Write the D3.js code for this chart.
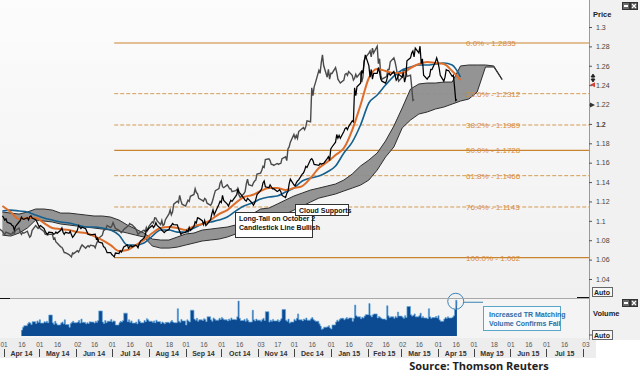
<!DOCTYPE html>
<html>
<head>
<meta charset="utf-8">
<script src="https://cdn.jsdelivr.net/npm/d3@7"></script>
<style>
  body { margin: 0; background: #fff; }
  svg { display: block; font-family: "Liberation Sans", Arial, sans-serif; }
</style>
</head>
<body>
<div id="chart"></div>
<script>
// daily closes, one per business day from 2014-03-31 to 2015-04-17 (5 per row = one week)
var closes = [
  1.1052, 1.1035, 1.1008, 1.1020, 1.0985,
  1.0972, 1.0955, 1.0948, 1.0905, 1.0942,
  1.0988, 1.1002, 1.1038, 1.1021, 1.1016,
  1.1032, 1.1010, 1.1044, 1.1052, 1.1030,
  1.1012, 1.0991, 1.0962, 1.0938, 1.0952,
  1.0921, 1.0893, 1.0871, 1.0862, 1.0884,
  1.0879, 1.0862, 1.0866, 1.0884, 1.0871,
  1.0902, 1.0926, 1.0883, 1.0861, 1.0882,
  1.0872, 1.0893, 1.0858, 1.0831, 1.0846,
  1.0902, 1.0951, 1.0936, 1.0921, 1.0934,
  1.0918, 1.0891, 1.0862, 1.0858, 1.0855,
  1.0861, 1.0863, 1.0812, 1.0823, 1.0782,
  1.0771, 1.0732, 1.0728, 1.0703, 1.0672,
  1.0671, 1.0652, 1.0641, 1.0628, 1.0668,
  1.0662, 1.0691, 1.0678, 1.0702, 1.0731,
  1.0752, 1.0718, 1.0733, 1.0744, 1.0731,
  1.0749, 1.0741, 1.0722, 1.0762, 1.0791,
  1.0821, 1.0852, 1.0898, 1.0905, 1.0921,
  1.0952, 1.0931, 1.0948, 1.0981, 1.0953,
  1.0922, 1.0903, 1.0891, 1.0878, 1.0892,
  1.0911, 1.0942, 1.0951, 1.0972, 1.0962,
  1.0958, 1.0921, 1.0892, 1.0861, 1.0872,
  1.0882, 1.0903, 1.0888, 1.0932, 1.0901,
  1.0942, 1.0991, 1.0978, 1.1031, 1.1028,
  1.1002, 1.0961, 1.1003, 1.0951, 1.0963,
  1.1012, 1.1071, 1.1112, 1.1062, 1.1091,
  1.1172, 1.1203, 1.1188, 1.1262, 1.1211,
  1.1172, 1.1152, 1.1183, 1.1212, 1.1201,
  1.1253, 1.1272, 1.1331, 1.1292, 1.1281,
  1.1232, 1.1211, 1.1203, 1.1232, 1.1221,
  1.1182, 1.1161, 1.1183, 1.1222, 1.1271,
  1.1312, 1.1333, 1.1391, 1.1412, 1.1352,
  1.1342, 1.1371, 1.1352, 1.1331, 1.1332,
  1.1302, 1.1311, 1.1322, 1.1301, 1.1262,
  1.1241, 1.1282, 1.1302, 1.1381, 1.1431,
  1.1372, 1.1361, 1.1392, 1.1411, 1.1422,
  1.1482, 1.1493, 1.1521, 1.1562, 1.1551,
  1.1632, 1.1641, 1.1622, 1.1582, 1.1581,
  1.1572, 1.1592, 1.1583, 1.1591, 1.1592,
  1.1642, 1.1661, 1.1622, 1.1742, 1.1762,
  1.1812, 1.1891, 1.1852, 1.1882, 1.1851,
  1.1921, 1.1952, 1.1962, 1.1941, 1.1972,
  1.2031, 1.2022, 1.2372, 1.2291, 1.2382,
  1.2421, 1.2552, 1.2522, 1.2632, 1.2712,
  1.2602, 1.2482, 1.2562, 1.2462, 1.2522,
  1.2521, 1.2582, 1.2531, 1.2462, 1.2441,
  1.2422, 1.2452, 1.2512, 1.2521, 1.2502,
  1.2541, 1.2502, 1.2452, 1.2471, 1.2512,
  1.2482, 1.2531, 1.2432, 1.2482, 1.2652,
  1.2682, 1.2731, 1.2752, 1.2692, 1.2782,
  1.2732, 1.2802, 1.2622, 1.2672, 1.2502,
  1.2462, 1.2482, 1.2491, 1.2562, 1.2561,
  1.2642, 1.2682, 1.2641, 1.2582, 1.2502,
  1.2441, 1.2482, 1.2561, 1.2552, 1.2551,
  1.2491, 1.2502, 1.2382, 1.2242, 1.2252
];

// daily volume from 2014-04-16 to 2015-04-17
var volumes = [
  16, 24, 28,
  33, 37, 35, 31, 39,   34, 41, 37, 44, 35,   39, 37, 40, 36, 57,   36, 32, 40, 34, 30,
  35, 38, 33, 44, 31,   24, 34, 37, 40, 36,   38, 42, 35, 46, 37,   33, 36, 34, 39, 38,
  35, 40, 37, 42, 68,   38, 34, 42, 36, 40,   45, 38, 41, 40, 30,   36, 40, 38, 42, 62,
  39, 44, 37, 41, 35,   38, 33, 45, 40, 36,   42, 39, 47, 44, 40,   37, 41, 36, 43, 39,
  34, 38, 36, 33, 37,   35, 39, 42, 38, 36,   74, 40, 37, 45, 41,   30, 44, 41, 38, 70,
  46, 43, 48, 40, 44,   42, 47, 45, 39, 52,   44, 40, 49, 46, 43,   48, 45, 50, 47, 44,
  41, 46, 43, 49, 45,   44, 52, 95, 48, 42,   45, 40, 47, 43, 38,   70, 44, 41, 46, 43,
  40, 45, 48, 42, 66,   38, 43, 40, 45, 41,   44, 39, 42, 47, 72,   43, 40, 46, 35, 38,
  45, 42, 48, 60, 44,   41, 46, 44, 49, 43,   47, 50, 45, 42, 40,   33, 27, 18, 20, 24,
  25, 28, 22, 19, 30,   38, 43, 40, 45, 48,   44, 47, 50, 46, 49,   40, 48, 84, 55, 52,
  47, 51, 49, 54, 58,   88, 56, 52, 58, 60,   49, 53, 51, 48, 46,   44, 82, 55, 50, 52,
  48, 53, 50, 65, 54,   51, 48, 55, 50, 80,   58, 54, 56, 60, 52,   55, 62, 50, 53, 49,
  47, 74, 52, 48, 50,   53, 49, 55, 44, 40,   46, 50, 48, 52, 49,   51, 55, 72, 97, 80
];

// weekly points (Mondays from 2014-03-31)
var conversionLine = [ // orange
  1.1153, 1.1091, 1.1019, 1.1029, 1.1029, 1.0977, 1.0926, 1.0915, 1.0905, 1.0884,
  1.0874, 1.0843, 1.0802, 1.0750, 1.0688, 1.0699, 1.0750, 1.0802, 1.0874, 1.0926,
  1.0936, 1.0926, 1.0905, 1.0946, 1.0967, 1.1008, 1.1070, 1.1111, 1.1184, 1.1246,
  1.1266, 1.1308, 1.1338, 1.1338, 1.1318, 1.1338, 1.1359, 1.1442, 1.1545, 1.1607,
  1.1679, 1.1751, 1.1937, 1.2195, 1.2474, 1.2567, 1.2546, 1.2525, 1.2525, 1.2577,
  1.2618, 1.2639, 1.2628, 1.2618, 1.2546, 1.2453
];
var baseLine = [ // blue
  1.1101, 1.1111, 1.1101, 1.1091, 1.1060, 1.1029, 1.1008, 1.0988, 1.0977, 1.0957,
  1.0936, 1.0936, 1.0926, 1.0905, 1.0853, 1.0750, 1.0750, 1.0771, 1.0843, 1.0905,
  1.0905, 1.0884, 1.0884, 1.0926, 1.0967, 1.0988, 1.1008, 1.1039, 1.1101, 1.1153,
  1.1184, 1.1225, 1.1246, 1.1256, 1.1297, 1.1338, 1.1411, 1.1442, 1.1462, 1.1504,
  1.1566, 1.1700, 1.1813, 1.1989, 1.2216, 1.2298, 1.2401, 1.2494, 1.2556, 1.2587,
  1.2608, 1.2608, 1.2618, 1.2628, 1.2608, 1.2484
];
var cloudTop = [
  1.1091, 1.1080, 1.1070, 1.1091, 1.1122, 1.1122, 1.1111, 1.1080, 1.1080, 1.1070,
  1.1060, 1.1050, 1.1050, 1.1039, 1.1008, 1.0957, 1.0915, 1.0874, 1.0812, 1.0802,
  1.0802, 1.0833, 1.0864, 1.0874, 1.0905, 1.0915, 1.0926, 1.0936, 1.0957, 1.1008,
  1.1070, 1.1122, 1.1132, 1.1173, 1.1215, 1.1256, 1.1287, 1.1318, 1.1338, 1.1359,
  1.1380, 1.1421, 1.1483, 1.1566, 1.1627, 1.1700, 1.1824, 1.1978, 1.2164, 1.2360,
  1.2412, 1.2422, 1.2422, 1.2432, 1.2432, 1.2598, 1.2608, 1.2608, 1.2608, 1.2598,
  1.2463
];
var cloudBottom = [
  1.0853, 1.0843, 1.0874, 1.0926, 1.1008, 1.0998, 1.0988, 1.0967, 1.0957, 1.0946,
  1.0936, 1.0926, 1.0915, 1.0905, 1.0895, 1.0874, 1.0853, 1.0833, 1.0740, 1.0719,
  1.0719, 1.0729, 1.0750, 1.0771, 1.0792, 1.0802, 1.0812, 1.0833, 1.0864, 1.0895,
  1.0926, 1.0946, 1.0977, 1.1019, 1.1070, 1.1111, 1.1153, 1.1194, 1.1235, 1.1256,
  1.1277, 1.1308, 1.1338, 1.1369, 1.1421, 1.1524, 1.1658, 1.1762, 1.1958, 1.2040,
  1.2102, 1.2123, 1.2154, 1.2174, 1.2205, 1.2236, 1.2257, 1.2329, 1.2587, 1.2587,
  1.2453
];

var fibPct = ["0.0%", "23.6%", "38.2%", "50.0%", "61.8%", "76.4%", "100.0%"];
var fibLevels = [1.2835, 1.2312, 1.1989, 1.1728, 1.1466, 1.1143, 1.062];

var priceTicks = [1.3, 1.28, 1.26, 1.24, 1.22, 1.2, 1.18, 1.16, 1.14, 1.12, 1.1, 1.08, 1.06, 1.04];
var dayTicks = [
  "2014-04-01", "2014-04-16", "2014-05-01", "2014-05-16", "2014-06-02", "2014-06-16",
  "2014-07-01", "2014-07-16", "2014-08-01", "2014-08-18", "2014-09-01", "2014-09-16",
  "2014-10-01", "2014-10-16", "2014-11-03", "2014-11-17", "2014-12-01", "2014-12-16",
  "2015-01-01", "2015-01-16", "2015-02-02", "2015-02-16", "2015-03-02", "2015-03-16",
  "2015-04-01", "2015-04-16", "2015-05-01", "2015-05-18", "2015-06-01", "2015-06-16",
  "2015-07-01", "2015-07-16", "2015-08-03"
];

var W = 640, H = 372, plotR = 589;
var parse = d3.timeParse("%Y-%m-%d");
var bday = d3.timeDay.filter(function (d) { return d.getDay() !== 0 && d.getDay() !== 6; });

var closeDates = bday.range(new Date(2014, 2, 31), new Date(2015, 3, 18));
var volDates = bday.range(new Date(2014, 3, 16), new Date(2015, 3, 18));
var weeks = d3.timeMonday.range(new Date(2014, 2, 31), new Date(2015, 4, 26));

var x = d3.scaleTime().domain([new Date(2014, 2, 29), new Date(2015, 7, 6)]).range([0, plotR]);
var y = d3.scaleLinear().domain([1.04, 1.30]).range([279, 27]);
var yv = d3.scaleLinear().domain([0, 95]).range([336, 301]);

var svg = d3.select("#chart").append("svg").attr("width", W).attr("height", H);
var defs = svg.append("defs");
var grad = defs.append("linearGradient").attr("id", "bg")
    .attr("x1", 0).attr("y1", 0).attr("x2", 0).attr("y2", 1);
grad.append("stop").attr("offset", "0%").attr("stop-color", "#fcfcfc");
grad.append("stop").attr("offset", "100%").attr("stop-color", "#f0f0f0");
defs.append("clipPath").attr("id", "clipP").append("rect").attr("width", plotR).attr("height", 297);
defs.append("clipPath").attr("id", "clipV").append("rect").attr("y", 299).attr("width", plotR).attr("height", 39);

// backgrounds
svg.append("rect").attr("width", W).attr("height", H).attr("fill", "#fff");
svg.append("rect").attr("width", plotR).attr("height", 298).attr("fill", "url(#bg)");
svg.append("rect").attr("x", plotR).attr("width", W - plotR).attr("height", 340).attr("fill", "#f1f1f1");
svg.append("rect").attr("y", 298).attr("width", plotR).attr("height", 40).attr("fill", "#f4f4f4");
svg.append("rect").attr("y", 338).attr("width", 596).attr("height", 20).attr("fill", "#ededed");

var price = svg.append("g").attr("clip-path", "url(#clipP)");

// fibonacci retracement lines
var fibX0 = x(new Date(2014, 6, 3));
price.selectAll(".fib").data(fibLevels).enter().append("line")
    .attr("x1", fibX0).attr("x2", plotR)
    .attr("y1", function (d) { return y(d); }).attr("y2", function (d) { return y(d); })
    .attr("stroke", function (d, i) { return i % 3 === 0 ? "#c9842f" : "#d49a55"; })
    .attr("stroke-width", function (d, i) { return i % 3 === 0 ? 1.2 : 1; })
    .attr("stroke-dasharray", function (d, i) { return i % 3 === 0 ? null : "4,2"; });

// ichimoku cloud
var cloud = weeks.map(function (d, i) { return { date: d, top: cloudTop[i], bot: cloudBottom[i] }; });
price.append("path").datum(cloud)
    .attr("fill", "#8e8e8e").attr("fill-opacity", 0.95)
    .attr("d", d3.area().x(function (d) { return x(d.date); })
        .y0(function (d) { return y(d.bot); }).y1(function (d) { return y(d.top); }));
["top", "bot"].forEach(function (k) {
    price.append("path").datum(cloud).attr("fill", "none")
        .attr("stroke", "#2e2e2e").attr("stroke-width", 1)
        .attr("d", d3.line().x(function (d) { return x(d.date); }).y(function (d) { return y(d[k]); }));
});

// lagging span: closes plotted 26 sessions back
var lag = closes.map(function (c, i) { return { date: bday.offset(closeDates[i], -26), v: c }; });
price.append("path").datum(lag).attr("fill", "none")
    .attr("stroke", "#4a4a4a").attr("stroke-width", 1.4)
    .attr("d", d3.line().x(function (d) { return x(d.date); }).y(function (d) { return y(d.v); }));

var wk = function (arr) { return arr.map(function (v, i) { return { date: weeks[i], v: v }; }); };
var wline = d3.line().curve(d3.curveMonotoneX)
    .x(function (d) { return x(d.date); }).y(function (d) { return y(d.v); });

price.append("path").datum(wk(baseLine)).attr("fill", "none")
    .attr("stroke", "#15608e").attr("stroke-width", 1.6).attr("d", wline);
price.append("path").datum(wk(conversionLine)).attr("fill", "none")
    .attr("stroke", "#de6d2a").attr("stroke-width", 2).attr("d", wline);

// price
var px = closes.map(function (c, i) { return { date: closeDates[i], v: c }; });
price.append("path").datum(px).attr("fill", "none")
    .attr("stroke", "#000").attr("stroke-width", 1.25)
    .attr("d", d3.line().x(function (d) { return x(d.date); }).y(function (d) { return y(d.v); }));

// fib labels
svg.selectAll(".fibl").data(fibLevels).enter().append("text")
    .attr("x", 466).attr("y", function (d) { return y(d) + 3; })
    .attr("font-size", 8).attr("fill", "#d98c3a")
    .text(function (d, i) { return fibPct[i] + " - " + d; });

// annotations
function note(x0, y0, w, h, lines, stroke, color) {
    svg.append("rect").attr("x", x0 + 0.5).attr("y", y0 + 0.5).attr("width", w).attr("height", h)
        .attr("fill", "#fff").attr("stroke", stroke).attr("stroke-width", 1);
    lines.forEach(function (t, i) {
        svg.append("text").attr("x", x0 + 4).attr("y", y0 + 9 + i * 9)
            .attr("font-size", 7).attr("font-weight", "bold").attr("fill", color).text(t);
    });
}
note(235, 212, 77, 25, ["Long-Tail on October 2", "Candlestick Line Bullish"], "#333", "#111");
note(295, 204, 53, 11, ["Cloud Supports"], "#333", "#111");

// volume
var vol = volumes.map(function (v, i) { return { date: volDates[i], v: v }; });
var vg = svg.append("g").attr("clip-path", "url(#clipV)");
vg.append("path").datum(vol).attr("fill", "#0c4a92")
    .attr("d", d3.area().curve(d3.curveStepAfter)
        .x(function (d) { return x(d.date); }).y0(yv(0)).y1(function (d) { return yv(d.v); }));
vg.append("path").datum(vol).attr("fill", "none").attr("stroke", "#62a6dc").attr("stroke-width", 0.7)
    .attr("d", d3.line().curve(d3.curveStepAfter)
        .x(function (d) { return x(d.date); }).y(function (d) { return yv(d.v); }));

var spike = vol[vol.length - 2];
var cx = x(spike.date), cy = yv(spike.v) + 1;
svg.append("circle").attr("cx", cx).attr("cy", cy).attr("r", 8)
    .attr("fill", "none").attr("stroke", "#3c83b4").attr("stroke-width", 1);
svg.append("line").attr("x1", cx + 8).attr("x2", 483).attr("y1", cy + 1).attr("y2", cy + 1)
    .attr("stroke", "#3c83b4");
svg.append("rect").attr("x", 483.5).attr("y", 306.5).attr("width", 77).attr("height", 24)
    .attr("fill", "#f7fafc").attr("stroke", "#5aa6c8");
svg.append("text").attr("x", 489).attr("y", 317).attr("font-size", 7).attr("font-weight", "bold")
    .attr("fill", "#2c6ea6").text("Increased TR Matching");
svg.append("text").attr("x", 489).attr("y", 326).attr("font-size", 7).attr("font-weight", "bold")
    .attr("fill", "#2c6ea6").text("Volume Confirms Fail");

// pane borders
svg.append("line").attr("x1", 0).attr("x2", plotR).attr("y1", 298.5).attr("y2", 298.5).attr("stroke", "#a8a8a8");
svg.append("line").attr("x1", 0).attr("x2", 10).attr("y1", 298.5).attr("y2", 298.5).attr("stroke", "#111");
svg.append("line").attr("x1", 577).attr("x2", plotR).attr("y1", 297.5).attr("y2", 297.5).attr("stroke", "#111");
svg.append("line").attr("x1", plotR + 0.5).attr("x2", plotR + 0.5).attr("y1", 0).attr("y2", 340).attr("stroke", "#9a9a9a");

// right price axis
var ax = svg.append("g").attr("transform", "translate(" + plotR + ",0)")
    .call(d3.axisRight(y).tickValues(priceTicks).tickSize(3).tickPadding(4).tickFormat(function (d) { return d; }));
ax.select(".domain").remove();
ax.selectAll("line").attr("stroke", "#555");
ax.selectAll("text").attr("font-size", 7).attr("fill", "#444").attr("font-family", "Liberation Sans, Arial")
    .attr("font-weight", function (d) { return d === 1.2 ? "bold" : null; });

// last-price markers on the axis
svg.append("path").attr("d", "M593,74 l-2,3 h4 z M593,82 l-2,-3 h4 z M593,76 v5").attr("fill", "#222").attr("stroke", "#222").attr("stroke-width", 0.8);
svg.append("path").attr("d", "M590," + (y(1.2405)) + " l5,-2.5 v5 z").attr("fill", "#d0443a");
svg.append("path").attr("d", "M595," + (y(1.2195)) + " l-5,-2.5 v5 z").attr("fill", "#333");

function labelBox(x0, y0, t) {
    svg.append("rect").attr("x", x0 + 0.5).attr("y", y0 + 0.5).attr("width", 20).attr("height", 9)
        .attr("fill", "#f6f6f6").attr("stroke", "#666");
    svg.append("text").attr("x", x0 + 2).attr("y", y0 + 8).attr("font-size", 7)
        .attr("font-weight", "bold").attr("fill", "#222").text(t);
}
labelBox(592, 287, "Auto");
labelBox(592, 330, "Auto");
svg.append("line").attr("x1", plotR).attr("x2", 592).attr("y1", 335).attr("y2", 335).attr("stroke", "#555");

svg.append("text").attr("x", 593).attr("y", 17).attr("font-size", 7.5).attr("font-weight", "bold")
    .attr("fill", "#222").text("Price");
svg.append("text").attr("x", 593).attr("y", 316).attr("font-size", 7.5).attr("font-weight", "bold")
    .attr("fill", "#222").text("Volume");

function icons(y0) {
    svg.append("rect").attr("x", 622.5).attr("y", y0 + 0.5).attr("width", 7).attr("height", 7)
        .attr("fill", "#6a6a6a").attr("stroke", "#333");
    svg.append("rect").attr("x", 624).attr("y", y0 + 3).attr("width", 4).attr("height", 2).attr("fill", "#fff");
    svg.append("rect").attr("x", 630.5).attr("y", y0 + 0.5).attr("width", 7).attr("height", 7)
        .attr("fill", "#555").attr("stroke", "#333");
    svg.append("path").attr("d", "M632," + (y0 + 2) + " l4,4 M636," + (y0 + 2) + " l-4,4")
        .attr("stroke", "#fff").attr("stroke-width", 1.2);
}
icons(2);
icons(299);

// bottom time axis
var days = dayTicks.map(parse);
var dAx = svg.append("g").attr("transform", "translate(0,340)")
    .call(d3.axisBottom(x).tickValues(days).tickSize(0).tickPadding(2).tickFormat(d3.timeFormat("%d")));
dAx.select(".domain").remove();
dAx.selectAll("text").attr("font-size", 6.5).attr("fill", "#555").attr("font-family", "Liberation Sans, Arial");

var months = d3.timeMonth.range(new Date(2014, 3, 1), new Date(2015, 7, 2));
svg.selectAll(".msep").data(months).enter().append("line")
    .attr("x1", function (d) { return Math.round(x(d)) + 0.5; })
    .attr("x2", function (d) { return Math.round(x(d)) + 0.5; })
    .attr("y1", 349).attr("y2", 357).attr("stroke", "#444");
svg.selectAll(".mlab").data(months.slice(0, -1)).enter().append("text")
    .attr("x", function (d) { return (x(d) + x(d3.timeMonth.offset(d, 1))) / 2; })
    .attr("y", 356).attr("text-anchor", "middle")
    .attr("font-size", 7).attr("font-weight", "bold").attr("fill", "#333")
    .text(d3.timeFormat("%b %y"));

svg.append("text").attr("x", 479).attr("y", 370).attr("text-anchor", "middle")
    .attr("font-family", "Open Sans, sans-serif").attr("font-size", 11).attr("font-weight", "bold")
    .attr("fill", "#222").text("Source: Thomson Reuters");
</script>
</body>
</html>
